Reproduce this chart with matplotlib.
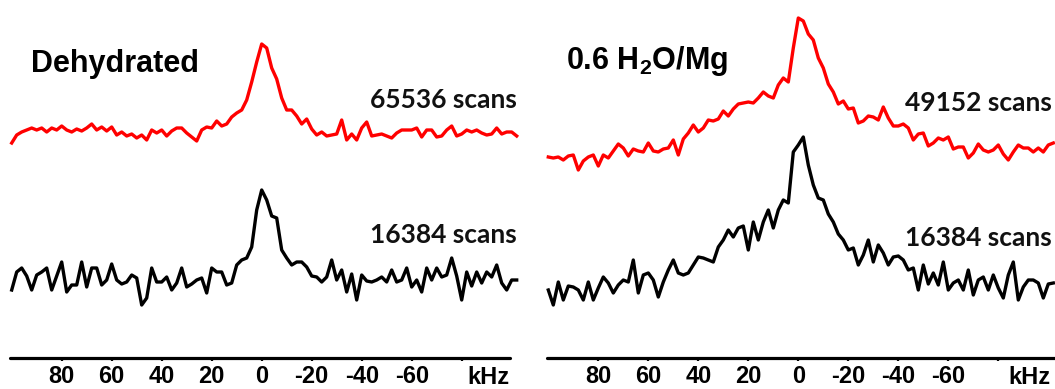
import numpy as np
import matplotlib
matplotlib.use("Agg")
import matplotlib.pyplot as plt

# ---------------- data ----------------
freq_khz = np.arange(100, -103, -2)  # frequency axis of every spectrum, kHz

dehydrated_65536 = [
    -8, 0, 3, 5, 7, 5, 7, 3, 7, 5,
    9, 5, 3, 6, 4, 7, 11, 5, 8, 4,
    8, 0, 3, -1, 1, -3, 0, -5, 5, 2,
    5, -1, 4, 7, 7, 2, -2, -6, 5, 8,
    7, 14, 9, 11, 18, 22, 25, 35, 53, 73,
    91, 87, 67, 56, 37, 25, 25, 19, 11, 16,
    6, 0, 3, -1, 0, 1, 15, -5, 1, -5,
    7, 13, -1, 0, 1, -1, -3, 2, 5, 5,
    5, 7, -2, 5, 5, -2, -1, 5, 9, -1,
    1, 5, 3, 5, 2, 0, 1, 7, 1, 3,
    3, -1]

dehydrated_16384 = [
    -7, 11, 15, 7, -7, 8, 11, 15, -7, 7,
    21, -9, -2, -2, 21, -4, 15, 15, -2, 3,
    19, 3, -1, 1, 8, 5, -22, -15, 15, 1,
    1, 6, -7, 0, 15, -4, -1, 3, 5, -10,
    15, 11, 11, -2, 0, 18, 23, 25, 36, 73,
    93, 83, 67, 65, 33, 25, 18, 21, 21, 16,
    7, 6, 1, 6, 23, 3, 13, -9, 9, -17,
    8, 2, 1, 3, 6, 1, 13, 1, 3, 15,
    -4, 3, -9, 15, 3, 15, 6, 8, 25, 7,
    -17, 11, -3, 11, 0, 11, 6, 18, 0, -7,
    3, 3]

hydrated_49152 = [
    -7, -8, -7, -10, -6, -5, -20, -11, -7, -5,
    -16, -5, -8, -1, 6, 2, -6, 1, -1, -2,
    7, -1, -2, 1, 2, 10, -5, 11, 17, 25,
    18, 22, 30, 29, 31, 39, 34, 41, 46, 47,
    48, 47, 52, 58, 54, 52, 65, 72, 68, 102,
    132, 129, 116, 110, 92, 82, 66, 58, 46, 49,
    41, 42, 27, 29, 34, 33, 30, 43, 32, 24,
    24, 26, 22, 10, 16, 17, 4, 7, 12, 10,
    13, 1, 3, 3, -8, -3, 6, 0, -2, 0,
    5, -4, -10, -2, 5, 2, 2, -2, 2, -2,
    5, 7]

hydrated_16384 = [
    -5, -20, 3, -15, -1, -2, -5, -15, 3, -15,
    -3, 8, 2, -8, 0, 5, 3, 25, -8, 10,
    12, 5, -12, 3, 15, 25, 12, 10, 12, 20,
    28, 27, 25, 23, 38, 45, 55, 48, 57, 59,
    35, 63, 45, 63, 75, 57, 75, 85, 82, 133,
    140, 148, 120, 100, 87, 85, 71, 63, 51, 45,
    35, 37, 20, 30, 45, 23, 40, 32, 20, 28,
    29, 25, 15, 17, -5, 20, 1, 12, 0, 23,
    -5, 2, 5, -5, 15, -10, 5, 8, -5, 10,
    -3, -13, 10, 23, -15, -2, 5, 5, 2, -13,
    1, 2]

tick_values = [80, 60, 40, 20, 0, -20, -40, -60, -80]
tick_labels = ["80", "60", "40", "20", "0", "-20", "-40", "-60", ""]
panel_titles = ["Dehydrated", r"0.6 H$_{\mathrm{2}}$O/Mg"]
scan_labels = [["65536 scans", "16384 scans"], ["49152 scans", "16384 scans"]]

# ---------------- styling ----------------
plt.rcParams["font.family"] = ["Liberation Sans", "DejaVu Sans"]
plt.rcParams["mathtext.fontset"] = "custom"
plt.rcParams["mathtext.rm"] = "Liberation Sans:bold"
plt.rcParams["mathtext.it"] = "Liberation Sans:bold"
plt.rcParams["mathtext.bf"] = "Liberation Sans:bold"

W, H = 1055, 389
fig = plt.figure(figsize=(W / 100, H / 100), dpi=100)

PXK = 2.5  # pixels per kHz
panels = [
    dict(x0=0, x1=530, zero=261.7, bounds=(100.7, -99.3),
         traces=[(dehydrated_65536, 223, "#ff0000"), (dehydrated_16384, 75, "#000000")],
         title_x=31, title_y=72, scan_x=517, scan_y=[108, 243], khz_x=488),
    dict(x0=530, x1=1055, zero=798.3, bounds=(100.6, -102.7),
         traces=[(hydrated_49152, 208, "#ff0000"), (hydrated_16384, 73, "#000000")],
         title_x=566, title_y=69, scan_x=1052, scan_y=[111, 246], khz_x=1029),
]

for i, p in enumerate(panels):
    ax = fig.add_axes([p["x0"] / W, 0, (p["x1"] - p["x0"]) / W, 1])
    ax.set_xlim((p["zero"] - p["x0"]) / PXK, (p["zero"] - p["x1"]) / PXK)
    ax.set_ylim(-(H - 358), 358)
    for tr, off, col in p["traces"]:
        ax.plot(freq_khz, np.asarray(tr) + off, color=col, lw=2.4,
                solid_joinstyle="round")
    for s in ["top", "left", "right"]:
        ax.spines[s].set_visible(False)
    ax.spines["bottom"].set_position(("data", 0))
    ax.spines["bottom"].set_bounds(*p["bounds"])
    ax.spines["bottom"].set_linewidth(2.3)
    ax.spines["bottom"].set_capstyle("round")
    ax.set_yticks([])
    ax.set_xticks(tick_values)
    ax.set_xticklabels(tick_labels, fontsize=17, fontweight="bold")
    ax.tick_params(axis="x", direction="out", length=2.2, width=1.6, pad=3)
    ax.patch.set_alpha(0)

    fig.text(p["title_x"] / W, 1 - p["title_y"] / H, panel_titles[i],
             fontsize=22, fontweight="bold", ha="left", va="baseline")
    for lab, yb in zip(scan_labels[i], p["scan_y"]):
        fig.text(p["scan_x"] / W, 1 - yb / H, lab, fontsize=19,
                 family=["Lato", "DejaVu Sans"], fontweight="bold",
                 color="#111111", ha="right", va="baseline")
    fig.text(p["khz_x"] / W, 1 - 384 / H, "kHz", fontsize=17,
             fontweight="bold", ha="center", va="baseline")

fig.savefig("out.png", dpi=100)
